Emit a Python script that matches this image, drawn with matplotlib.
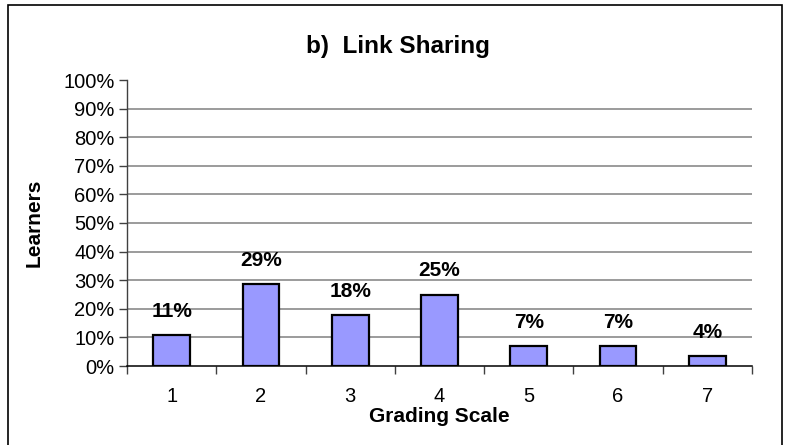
import numpy as np
import matplotlib.pyplot as plt
import matplotlib.patches as mpatches
from matplotlib.ticker import FuncFormatter, MultipleLocator

plt.rcParams["font.family"] = ["Liberation Sans", "DejaVu Sans"]

# grading scale categories and share of learners (%)
grades = [1, 2, 3, 4, 5, 6, 7]
learners_pct = [10.7, 28.6, 17.9, 25.0, 7.1, 7.1, 3.6]
title = "b)  Link Sharing"

fig = plt.figure(figsize=(7.85, 4.45), dpi=100)
ax = fig.add_axes([127 / 785, 1 - 366 / 445, 625 / 785, 286 / 445])

# outer chart border (bottom edge falls outside the picture)
fig.patches.append(mpatches.Rectangle((8 / 785, -0.05), 774 / 785, 1.05 - 5 / 445,
                                      transform=fig.transFigure, fill=False,
                                      edgecolor="black", lw=1.2))

vals = np.array(learners_pct) / 100
ax.bar(grades, vals, width=0.41, color="#9999FF", edgecolor="black", lw=1.6, zorder=3)

for g, v, p in zip(grades, vals, learners_pct):
    ax.annotate(f"{round(p)}%", (g, v), xytext=(0, 13), textcoords="offset points",
                ha="center", va="baseline", fontsize=15, fontweight="bold")

ax.set_xlim(0.5, 7.5)
ax.set_ylim(0, 1)
ax.yaxis.set_major_locator(MultipleLocator(0.1))
ax.yaxis.set_major_formatter(FuncFormatter(lambda y, _: f"{y * 100:.0f}%"))
ax.set_xticks(grades)
ax.set_xticks(np.arange(0.5, 8, 1), minor=True)
ax.tick_params(axis="x", which="major", length=0, pad=15, labelsize=14.5)
ax.tick_params(axis="x", which="minor", length=6, width=1, direction="out", color="#404040")
ax.tick_params(axis="y", length=6, width=1, direction="out", labelsize=14.5, pad=3,
               color="#404040")

for y in np.arange(0.1, 0.95, 0.1):
    ax.axhline(y, color="#808080", lw=1.1, zorder=1)

ax.spines["top"].set_visible(False)
ax.spines["right"].set_visible(False)
ax.spines["left"].set_linewidth(1)
ax.spines["left"].set_color("#404040")
ax.spines["bottom"].set_linewidth(1.1)

ax.set_xlabel("Grading Scale", fontsize=15, fontweight="bold", labelpad=1)
ax.set_ylabel("Learners", fontsize=15, fontweight="bold", labelpad=14)
fig.text(398 / 785, 1 - 47 / 445, title, ha="center", va="center",
         fontsize=17.5, fontweight="bold")

fig.savefig("out.png", dpi=100)
